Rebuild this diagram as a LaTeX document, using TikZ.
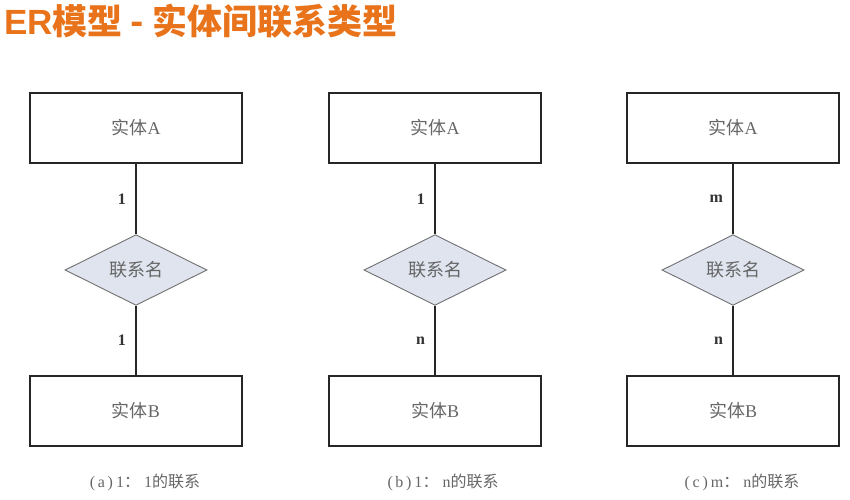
\documentclass[tikz,border=0pt]{standalone}
\usepackage{fontspec}
\setmainfont{Liberation Serif}
\newfontfamily\cjk{Noto Sans CJK SC}
\newfontfamily\titlelat{Liberation Sans}
\usetikzlibrary{shapes.geometric}
\definecolor{titleorange}{HTML}{E8731A}
\definecolor{txtgray}{HTML}{666666}
\definecolor{dfill}{HTML}{DFE4EF}
\definecolor{dline}{HTML}{707070}
\tikzset{
  entity/.style={draw=black!85, line width=1.4pt, minimum width=212pt, minimum height=70pt, inner sep=0pt, text=txtgray, font=\fontsize{18}{21}\selectfont},
  rel/.style={diamond, draw=dline, line width=0.9pt, fill=dfill, minimum width=142pt, minimum height=69pt, inner sep=0pt, text=txtgray, font=\fontsize{18}{21}\selectfont},
  link/.style={draw=black!85, line width=1.4pt},
  card/.style={midway, left=6pt, text=black!80, font=\fontsize{16}{18}\selectfont\bfseries},
  capt/.style={text=txtgray, font=\fontsize{16}{18}\selectfont}
}
\begin{document}
\begin{tikzpicture}[x=1pt,y=-1pt]
\useasboundingbox (0,0) rectangle (850,499);
\node[anchor=west, text=titleorange, inner sep=0pt] (title) at (4,21) {\fontsize{35}{38}\selectfont\titlelat\bfseries ER\cjk\bfseries 模型 - 实体间联系类型};

% (a)
\node[entity] (aA) at (136,128) {{\cjk 实体}A};
\node[rel] (aR) at (136,270) {\cjk 联系名};
\node[entity] (aB) at (136,411) {{\cjk 实体}B};
\draw[link] (aA) -- (aR) node[card] {1};
\draw[link] (aR) -- (aB) node[card] {1};
\node[capt] (aC) at (145,482) {(\,a\,)\hspace{3pt}1{\cjk ：}\hspace{4pt}1{\cjk 的联系}};

% (b)
\node[entity] (bA) at (435,128) {{\cjk 实体}A};
\node[rel] (bR) at (435,270) {\cjk 联系名};
\node[entity] (bB) at (435,411) {{\cjk 实体}B};
\draw[link] (bA) -- (bR) node[card] {1};
\draw[link] (bR) -- (bB) node[card] {n};
\node[capt] (bC) at (443,482) {(\,b\,)\hspace{3pt}1{\cjk ：}\hspace{4pt}n{\cjk 的联系}};

% (c)
\node[entity] (cA) at (733,128) {{\cjk 实体}A};
\node[rel] (cR) at (733,270) {\cjk 联系名};
\node[entity] (cB) at (733,411) {{\cjk 实体}B};
\draw[link] (cA) -- (cR) node[card] {m};
\draw[link] (cR) -- (cB) node[card] {n};
\node[capt] (cC) at (742,482) {(\,c\,)\hspace{3pt}m{\cjk ：}\hspace{4pt}n{\cjk 的联系}};
\end{tikzpicture}
\end{document}
